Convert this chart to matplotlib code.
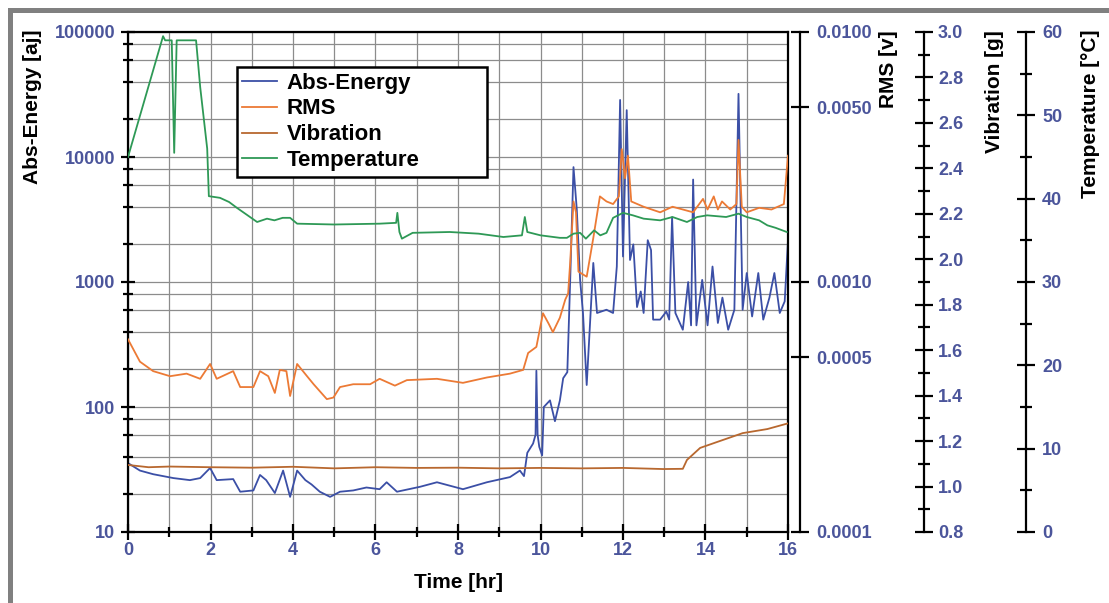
import numpy as np
import matplotlib.pyplot as plt
from matplotlib.patches import Rectangle
from matplotlib.ticker import (FixedLocator, MultipleLocator, FuncFormatter,
                               NullFormatter, NullLocator, LogLocator)

plt.rcParams['font.family'] = ['Liberation Sans', 'DejaVu Sans']
plt.rcParams['font.weight'] = 'bold'

# ---- data ----
energy_t = [0, 0.29, 0.61, 1.1, 1.5, 1.75, 1.99, 2.15, 2.55, 2.72, 3.04, 3.2, 3.35, 3.56,
            3.76, 3.93, 4.1, 4.3, 4.45, 4.65, 4.9, 5.14, 5.46, 5.78, 6.1, 6.27, 6.52,
            7.08, 7.49, 8.12, 8.7, 9.26, 9.5, 9.6, 9.68, 9.82, 9.88, 9.9, 9.93, 9.97,
            10.04, 10.08, 10.23, 10.35, 10.47, 10.55, 10.65, 10.72, 10.8, 10.88, 10.96,
            11.03, 11.12, 11.28, 11.37, 11.6, 11.76, 11.85, 11.93, 12.0, 12.09, 12.17,
            12.25, 12.34, 12.43, 12.5, 12.6, 12.68, 12.73, 12.9, 13.05, 13.12, 13.19,
            13.27, 13.45, 13.58, 13.65, 13.7, 13.78, 13.92, 14.05, 14.17, 14.3, 14.41,
            14.55, 14.7, 14.8, 14.9, 15.0, 15.13, 15.28, 15.4, 15.55, 15.67, 15.8,
            15.92, 16.0]
energy = [35.6, 31, 29, 27, 26, 27, 32.5, 26, 26.5, 21, 21.5, 28.6, 26, 20.5,
          31, 19.1, 31, 26, 24, 21, 19.1, 21, 21.5, 22.7, 22, 25, 21,
          23, 25, 22, 25, 27.5, 31, 28, 43, 51, 60, 195, 60, 48,
          41, 100, 113, 77, 113, 170, 190, 1040, 8300, 3800, 1040,
          565, 150, 1420, 565, 600, 565, 1330, 28600, 1600, 23700, 1500,
          2000, 630, 840, 565, 2160, 1800, 500, 500, 580, 500, 3300,
          565, 415, 1000, 450, 6600, 450, 1040, 450, 1330, 470, 750,
          415, 600, 32000, 600, 1180, 530, 1180, 500, 750, 1180, 565,
          700, 2160]

rms_t = [0, 0.29, 0.61, 1.02, 1.42, 1.75, 1.99, 2.15, 2.55, 2.72, 3.04, 3.2, 3.4, 3.56,
         3.68, 3.84, 3.93, 4.1, 4.34, 4.5, 4.82, 4.98, 5.14, 5.46, 5.87, 6.1, 6.47,
         6.76, 7.49, 8.12, 8.7, 9.26, 9.58, 9.7, 9.9, 10.06, 10.2, 10.3, 10.47, 10.6,
         10.67, 10.72, 10.8, 10.86, 10.92, 11.12, 11.28, 11.44, 11.6, 11.76, 11.9,
         11.97, 12.05, 12.12, 12.2, 12.5, 12.9, 13.2, 13.45, 13.7, 13.94, 14.05,
         14.2, 14.3, 14.4, 14.6, 14.75, 14.8, 14.88, 15.0, 15.3, 15.6, 15.9, 16.0]
rms = [5.9e-4, 4.8e-4, 4.4e-4, 4.2e-4, 4.3e-4, 4.1e-4, 4.7e-4, 4.1e-4, 4.4e-4, 3.8e-4,
       3.8e-4, 4.4e-4, 4.2e-4, 3.6e-4, 4.45e-4, 4.4e-4, 3.5e-4, 4.7e-4, 4.2e-4, 3.9e-4,
       3.4e-4, 3.45e-4, 3.8e-4, 3.9e-4, 3.9e-4, 4.1e-4, 3.85e-4, 4.05e-4, 4.1e-4,
       3.95e-4, 4.15e-4, 4.3e-4, 4.45e-4, 5.2e-4, 5.5e-4, 7.5e-4, 6.8e-4, 6.3e-4,
       7.2e-4, 8.5e-4, 9.0e-4, 1.2e-3, 2.1e-3, 1.9e-3, 1.1e-3, 1.05e-3, 1.5e-3,
       2.2e-3, 2.1e-3, 2.05e-3, 2.2e-3, 3.4e-3, 2.6e-3, 3.2e-3, 2.1e-3, 2.0e-3,
       1.9e-3, 2.0e-3, 1.95e-3, 1.9e-3, 2.15e-3, 1.95e-3, 2.2e-3, 1.95e-3, 2.1e-3,
       1.95e-3, 2.05e-3, 3.7e-3, 2.0e-3, 1.9e-3, 1.98e-3, 1.95e-3, 2.05e-3, 3.2e-3]

vib_t = [0, 0.5, 1, 2, 3, 4, 5, 6, 7, 8, 9, 10, 11, 12, 12.97, 13.45, 13.55, 13.87,
         14.28, 14.9, 15.5, 16.0]
vib = [1.095, 1.085, 1.088, 1.085, 1.083, 1.087, 1.08, 1.085, 1.082, 1.083, 1.08,
       1.082, 1.08, 1.082, 1.077, 1.078, 1.117, 1.17, 1.196, 1.235, 1.253, 1.278]

temp_t = [0, 0.85, 0.9, 1.06, 1.12, 1.18, 1.65, 1.75, 1.92, 1.96, 2.23, 2.45, 2.64,
          2.9, 3.13, 3.37, 3.55, 3.75, 3.93, 4.1, 5.0, 6.1, 6.5, 6.53, 6.58, 6.64,
          6.9, 7.8, 8.5, 9.1, 9.55, 9.62, 9.68, 10.0, 10.47, 10.64, 10.8, 10.96,
          11.1, 11.3, 11.45, 11.6, 11.76, 12.0, 12.24, 12.5, 12.9, 13.2, 13.55,
          13.8, 14.04, 14.5, 14.8, 15.0, 15.3, 15.5, 15.7, 15.97]
temp = [45.0, 59.5, 59.0, 59.0, 45.5, 59.0, 59.0, 53.4, 46.0, 40.3, 40.1, 39.6, 38.9,
        38.0, 37.2, 37.6, 37.4, 37.7, 37.7, 37.0, 36.9, 37.0, 37.1, 38.3, 36.0, 35.2,
        35.9, 36.0, 35.8, 35.4, 35.6, 37.8, 36.0, 35.6, 35.3, 35.3, 35.8, 35.9,
        35.2, 36.2, 35.6, 35.9, 37.7, 38.3, 38.0, 37.6, 37.4, 37.8, 37.2,
        37.8, 38.0, 37.8, 38.2, 37.8, 37.4, 36.8, 36.5, 36.0]

energy_ticks = [10, 100, 1000, 10000, 100000]
rms_ticks = [0.0001, 0.0005, 0.001, 0.005, 0.01]

W, H = 1109, 603
lab_col = '#4b559b'

fig = plt.figure(figsize=(W / 100, H / 100), dpi=100)
fig.patch.set_facecolor('white')
fig.add_artist(Rectangle((8 / W, 0), 5 / W, 1 - 8 / H, transform=fig.transFigure,
                         color='#808080', lw=0))
fig.add_artist(Rectangle((8 / W, 1 - 13 / H), 1 - 8 / W, 5 / H, transform=fig.transFigure,
                         color='#808080', lw=0))

ax = fig.add_axes([128 / W, 1 - 532 / H, 660 / W, 500 / H])
ax.set_xlim(0, 16)
ax.set_yscale('log')
ax.set_ylim(10, 100000)
ax.yaxis.set_major_locator(FixedLocator(energy_ticks))
ax.yaxis.set_minor_locator(LogLocator(base=10, subs=(2, 4, 6, 8)))
ax.yaxis.set_major_formatter(FuncFormatter(lambda v, p: '%d' % round(v)))
ax.yaxis.set_minor_formatter(NullFormatter())
ax.xaxis.set_major_locator(MultipleLocator(2))
ax.xaxis.set_minor_locator(MultipleLocator(1))
ax.grid(True, which='both', color='#8c8c8c', lw=0.9)
ax.set_axisbelow(True)
for s in ax.spines.values():
    s.set_linewidth(1.6)
ax.tick_params(axis='y', which='major', direction='inout', length=10, width=1.6,
               pad=4, labelsize=13, labelcolor=lab_col)
ax.tick_params(axis='y', which='minor', direction='inout', length=7, width=1.6)
ax.tick_params(axis='x', which='major', direction='inout', length=12, width=1.6,
               pad=1, labelsize=13, labelcolor=lab_col)
ax.tick_params(axis='x', which='minor', direction='inout', length=7, width=1.6)

l1, = ax.plot(energy_t, energy, color='#3b4fa6', lw=1.3, label='Abs-Energy')

ax2 = ax.twinx()
ax2.set_yscale('log')
ax2.set_ylim(0.0001, 0.01)
ax2.yaxis.set_major_locator(FixedLocator(rms_ticks))
ax2.yaxis.set_minor_locator(NullLocator())
ax2.yaxis.set_major_formatter(FuncFormatter(lambda v, p: '%.4f' % v))
l2, = ax2.plot(rms_t, rms, color='#ec7a35', lw=1.3, label='RMS')

ax3 = ax.twinx()
ax3.set_ylim(0.8, 3.0)
ax3.yaxis.set_major_locator(MultipleLocator(0.2))
ax3.yaxis.set_minor_locator(MultipleLocator(0.1))
ax3.yaxis.set_major_formatter(FuncFormatter(lambda v, p: '%.1f' % v))
l3, = ax3.plot(vib_t, vib, color='#b8682f', lw=1.3, label='Vibration')

ax4 = ax.twinx()
ax4.set_ylim(0, 60)
ax4.yaxis.set_major_locator(MultipleLocator(10))
ax4.yaxis.set_minor_locator(MultipleLocator(5))
l4, = ax4.plot(temp_t, temp, color='#2e9956', lw=1.3, label='Temperature')

for a, off, pad in [(ax2, 12, 5), (ax3, 136, 3.5), (ax4, 238, 5)]:
    for side in ['top', 'bottom', 'left']:
        a.spines[side].set_visible(False)
    a.spines['right'].set_position(('outward', off * 0.72))
    a.spines['right'].set_linewidth(1.6)
    a.tick_params(axis='y', which='major', direction='inout', length=13, width=1.6,
                  pad=pad, labelsize=13, labelcolor=lab_col)
    a.tick_params(axis='y', which='minor', direction='inout', length=8, width=1.6)

leg = ax4.legend(handles=[l1, l2, l3, l4], loc='upper left',
                 bbox_to_anchor=(0.165, 0.708, 0.379, 0.222), mode='expand',
                 borderaxespad=0, fontsize=16, handlelength=1.55, handletextpad=0.45,
                 labelspacing=0.22, borderpad=0.25, fancybox=False, framealpha=1,
                 edgecolor='black')
leg.get_frame().set_linewidth(1.8)

fig.text(33 / W, 1 - 30 / H, 'Abs-Energy [aj]', rotation=90, ha='center', va='top',
         fontsize=15, weight='bold')
fig.text(888 / W, 1 - 30 / H, 'RMS [v]', rotation=90, ha='center', va='top',
         fontsize=15, weight='bold')
fig.text(995 / W, 1 - 30 / H, 'Vibration [g]', rotation=90, ha='center', va='top',
         fontsize=15, weight='bold')
fig.text(1090 / W, 1 - 30 / H, 'Temperature [\u00b0C]', rotation=90, ha='center',
         va='top', fontsize=15, weight='bold')
fig.text(458 / W, 1 - 583 / H, 'Time [hr]', ha='center', va='center', fontsize=15,
         weight='bold')

fig.savefig('out.png', dpi=100)
